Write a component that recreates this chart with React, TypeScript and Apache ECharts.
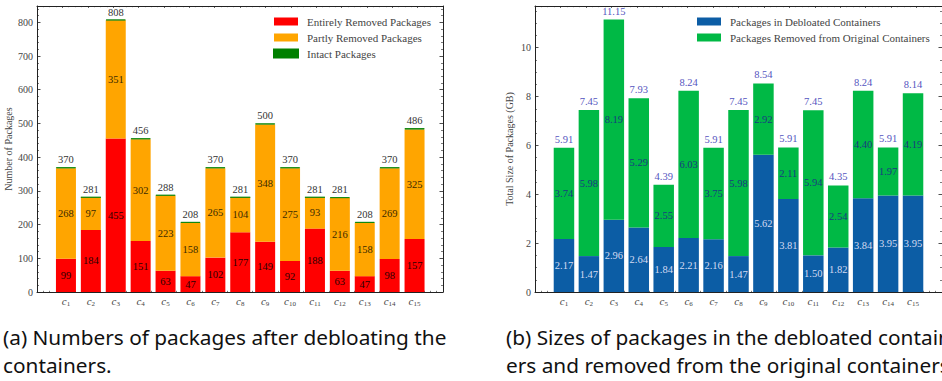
import React, { useEffect, useRef } from "react";
import * as echarts from "echarts";

const subscripts = ["1","2","3","4","5","6","7","8","9","10","11","12","13","14","15"];
const entirelyRemoved = [99, 184, 455, 151, 63, 47, 102, 177, 149, 92, 188, 63, 47, 98, 157];
const partlyRemoved = [268, 97, 351, 302, 223, 158, 265, 104, 348, 275, 93, 216, 158, 269, 325];
const intactPackages = [3, 0, 2, 3, 2, 3, 3, 0, 3, 3, 0, 2, 3, 3, 4];
const packageTotals = [370, 281, 808, 456, 288, 208, 370, 281, 500, 370, 281, 281, 208, 370, 486];

const debloatedSizes = [2.17, 1.47, 2.96, 2.64, 1.84, 2.21, 2.16, 1.47, 5.62, 3.81, 1.5, 1.82, 3.84, 3.95, 3.95];
const removedSizes = [3.74, 5.98, 8.19, 5.29, 2.55, 6.03, 3.75, 5.98, 2.92, 2.11, 5.94, 2.54, 4.4, 1.97, 4.19];
const sizeTotals = [5.91, 7.45, 11.15, 7.93, 4.39, 8.24, 5.91, 7.45, 8.54, 5.91, 7.45, 4.35, 8.24, 5.91, 8.14];

const countMax = 848.4;
const sizeMax = 11.7075;

const SERIF = "'Liberation Serif', 'DejaVu Serif', serif";
const SANS = "'Noto Sans', 'Open Sans', sans-serif";
const AX = "#222";
const TXT = "#444";

function frameX(gridIndex: number, position: string) {
  return {
    type: "value", gridIndex, position, min: 0, max: 16, interval: 1,
    axisLine: { show: true, onZero: false, lineStyle: { color: AX, width: 1 } },
    axisTick: { show: true, inside: true, length: 2, lineStyle: { color: AX, width: 0.7 } },
    minorTick: { show: true, splitNumber: 4, length: 1.2, lineStyle: { color: AX, width: 0.6 } },
    axisLabel: { show: false }, splitLine: { show: false },
  };
}

function frameY(gridIndex: number, position: string, max: number, interval: number, minorSplit: number, showLabel: boolean, name?: string, nameGap?: number) {
  return {
    type: "value", gridIndex, position, min: 0, max, interval,
    name: name || "", nameLocation: "middle", nameGap: nameGap || 0,
    nameTextStyle: { fontFamily: SERIF, fontSize: 10, color: TXT },
    axisLine: { show: true, onZero: false, lineStyle: { color: AX, width: 1 } },
    axisTick: { show: true, inside: true, length: 3.5, lineStyle: { color: AX, width: 0.8 } },
    minorTick: { show: true, splitNumber: minorSplit, length: 2, lineStyle: { color: AX, width: 0.6 } },
    axisLabel: { show: showLabel, fontFamily: SERIF, fontSize: 10, color: TXT, margin: 4, showMaxLabel: false },
    splitLine: { show: false },
  };
}

function dataX(gridIndex: number) {
  return {
    type: "category", gridIndex, data: subscripts,
    axisLine: { show: false }, axisTick: { show: false }, splitLine: { show: false },
    axisLabel: {
      margin: 3, interval: 0,
      formatter: (v: string) => `{c|c}{s|${v}}`,
      rich: {
        c: { fontFamily: SERIF, fontStyle: "italic", fontSize: 11, color: TXT, lineHeight: 12 },
        s: { fontFamily: SERIF, fontSize: 7, color: TXT, lineHeight: 6, verticalAlign: "bottom" },
      },
    },
  };
}

function dataY(gridIndex: number, max: number) {
  return { type: "value", gridIndex, min: 0, max, show: false, splitLine: { show: false } };
}

const legendText = { fontFamily: SERIF, fontSize: 11, color: TXT, lineHeight: 10, padding: [0, 0, 0, 4] };

export default function App() {
  const ref = useRef<HTMLDivElement>(null);
  useEffect(() => {
    if (!ref.current) return;
    const chart = echarts.init(ref.current, null, { renderer: "svg" });
    const segLabel = (color: string, fmt?: (p: any) => string) => ({
      show: true, position: "inside", color, fontFamily: SERIF, fontSize: 10.5,
      formatter: fmt || ((p: any) => String(p.value)),
    });
    const cap = (x: number, y: number, text: string) => ({
      type: "text", x, y,
      style: { text, font: `20.8px ${SANS}`, fill: "#111", verticalAlign: "middle" },
    });
    chart.setOption({
      animation: false,
      backgroundColor: "#fff",
      grid: [
        { left: 37, top: 6, width: 406, height: 286 },
        { left: 53.5, top: 6, width: 373.5, height: 286 },
        { left: 535, top: 6, width: 407, height: 286 },
        { left: 551.5, top: 6, width: 374, height: 286 },
      ],
      xAxis: [
        frameX(0, "bottom"), frameX(0, "top"), dataX(1),
        frameX(2, "bottom"), frameX(2, "top"), dataX(3),
      ],
      yAxis: [
        frameY(0, "left", countMax, 100, 5, true, "Number of Packages", 24),
        frameY(0, "right", countMax, 100, 5, false),
        dataY(1, countMax),
        frameY(2, "left", sizeMax, 2, 4, true, "Total Size of Packages (GB)", 21),
        frameY(2, "right", sizeMax, 2, 4, false),
        dataY(3, sizeMax),
      ],
      legend: [
        {
          data: ["Entirely Removed Packages", "Partly Removed Packages", "Intact Packages"],
          orient: "vertical", left: 273, top: 16, padding: 0, icon: "rect", itemWidth: 24, itemHeight: 8, itemGap: 5,
          textStyle: legendText,
        },
        {
          data: ["Packages in Debloated Containers", "Packages Removed from Original Containers"],
          orient: "vertical", left: 697, top: 16, padding: 0, icon: "rect", itemWidth: 24, itemHeight: 8, itemGap: 5,
          textStyle: legendText,
        },
      ],
      series: [
        {
          name: "Entirely Removed Packages", type: "bar", xAxisIndex: 2, yAxisIndex: 2, stack: "cnt",
          barWidth: 20, data: entirelyRemoved, itemStyle: { color: "#ff0000" }, label: segLabel("#2a0000"),
        },
        {
          name: "Partly Removed Packages", type: "bar", xAxisIndex: 2, yAxisIndex: 2, stack: "cnt",
          barWidth: 20, data: partlyRemoved, itemStyle: { color: "#ffa500" }, label: segLabel("#3a2a00"),
        },
        {
          name: "Intact Packages", type: "bar", xAxisIndex: 2, yAxisIndex: 2, stack: "cnt",
          barWidth: 20, data: intactPackages,
          itemStyle: { color: "#008000", borderColor: "#008000", borderWidth: 0.8 },
          label: {
            show: true, position: "top", distance: 2, color: "#333", fontFamily: SERIF, fontSize: 10.5,
            formatter: (p: any) => String(packageTotals[p.dataIndex]),
          },
        },
        {
          name: "Packages in Debloated Containers", type: "bar", xAxisIndex: 5, yAxisIndex: 5, stack: "size",
          barWidth: 20.5, data: debloatedSizes, itemStyle: { color: "#0c5da5" },
          label: segLabel("#d4dbf2", (p: any) => Number(p.value).toFixed(2)),
        },
        {
          name: "Packages Removed from Original Containers", type: "bar", xAxisIndex: 5, yAxisIndex: 5, stack: "size",
          barWidth: 20.5, data: removedSizes, itemStyle: { color: "#00b945" },
          label: segLabel("#1a3a80", (p: any) => Number(p.value).toFixed(2)),
        },
        {
          name: "Total Size", type: "bar", xAxisIndex: 5, yAxisIndex: 5, stack: "size",
          barWidth: 20.5, data: sizeTotals.map(() => 0), itemStyle: { color: "rgba(0,0,0,0)" },
          label: {
            show: true, position: "top", distance: 3, color: "#5555c0", fontFamily: SERIF, fontSize: 10.5,
            formatter: (p: any) => sizeTotals[p.dataIndex].toFixed(2),
          },
        },
      ],
      graphic: [
        cap(3, 337, "(a) Numbers of packages after debloating the"),
        cap(3, 365, "containers."),
        cap(506, 337, "(b) Sizes of packages in the debloated contain"),
        cap(506, 365, "ers and removed from the original containers"),
      ],
    });
    return () => chart.dispose();
  }, []);
  return <div ref={ref} style={{ position: "absolute", left: 0, top: 0, width: 942, height: 381 }} />;
}
